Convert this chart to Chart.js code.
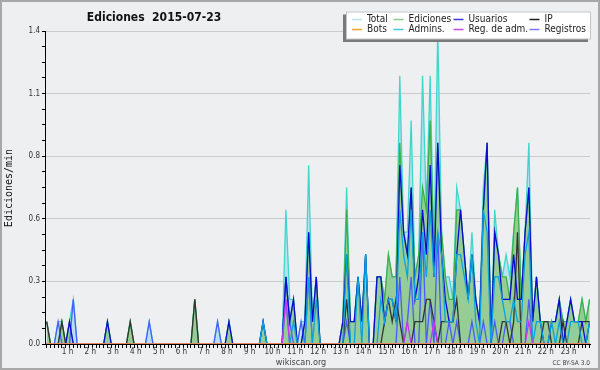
<!DOCTYPE html>
<html>
<head>
<meta charset="utf-8">
<title>Ediciones 2015-07-23</title>
<script src="https://cdn.jsdelivr.net/npm/chart.js@4.4.0/dist/chart.umd.min.js"></script>
<style>
  body { margin: 0; background: #eeeff1; }
  #wrap { width: 600px; height: 370px; }
</style>
</head>
<body>
<div id="wrap"><canvas id="mycanvas" width="600" height="370"></canvas></div>
<script>
// one value per 10 minutes, in ediciones/min (6 values per hour)
var total = [
  0.1, 0, 0, 0.1, 0.1, 0,        // 0 h
  0.1, 0.2, 0, 0, 0, 0,          // 1 h
  0, 0, 0, 0, 0.1, 0,            // 2 h
  0, 0, 0, 0, 0.1, 0,            // 3 h
  0, 0, 0, 0.1, 0, 0,            // 4 h
  0, 0, 0, 0, 0, 0,              // 5 h
  0, 0, 0, 0.2, 0, 0,            // 6 h
  0, 0, 0, 0.1, 0, 0,            // 7 h
  0.1, 0, 0, 0, 0, 0,            // 8 h
  0, 0, 0, 0.1, 0, 0,            // 9 h
  0, 0, 0, 0.6, 0.2, 0.2,        // 10 h
  0, 0.1, 0.1, 0.8, 0.1, 0.3,    // 11 h
  0, 0, 0, 0, 0, 0,              // 12 h
  0.1, 0.7, 0.1, 0.1, 0.3, 0.1,  // 13 h
  0.4, 0, 0, 0.3, 0.3, 0.2,      // 14 h
  0.4, 0.3, 0.3, 1.2, 0.5, 0.5,  // 15 h
  1.0, 0.3, 0.4, 1.2, 0.6, 1.2,  // 16 h
  0.4, 1.4, 0.5, 0.3, 0.3, 0.2,  // 17 h
  0.7, 0.6, 0.4, 0.2, 0.5, 0.2,  // 18 h
  0.1, 0.7, 0.9, 0, 0.6, 0.4,    // 19 h
  0.3, 0.4, 0.3, 0.5, 0.7, 0.2,  // 20 h
  0.5, 0.9, 0.1, 0.3, 0.1, 0.1,  // 21 h
  0.1, 0.1, 0.1, 0.2, 0.1, 0.1,  // 22 h
  0.2, 0.1, 0.1, 0.2, 0.1, 0.2   // 23 h
];
var ediciones = [
  0.1, 0, 0, 0, 0.1, 0,
  0.1, 0, 0, 0, 0, 0,
  0, 0, 0, 0, 0.1, 0,
  0, 0, 0, 0, 0.1, 0,
  0, 0, 0, 0, 0, 0,
  0, 0, 0, 0, 0, 0,
  0, 0, 0, 0.2, 0, 0,
  0, 0, 0, 0, 0, 0,
  0.1, 0, 0, 0, 0, 0,
  0, 0, 0, 0.1, 0, 0,
  0, 0, 0, 0.3, 0.1, 0.2,
  0, 0, 0.1, 0.5, 0.1, 0.3,
  0, 0, 0, 0, 0, 0,
  0.1, 0.6, 0.1, 0.1, 0.3, 0.1,
  0.4, 0, 0, 0.3, 0.3, 0.2,
  0.4, 0.3, 0.3, 0.9, 0.5, 0.4,
  0.7, 0.3, 0.4, 0.7, 0.6, 1.0,
  0.4, 0.9, 0.5, 0.3, 0.2, 0.2,
  0.6, 0.6, 0.4, 0.2, 0.4, 0.2,
  0.1, 0.6, 0.9, 0, 0.5, 0.4,
  0.3, 0.3, 0.2, 0.5, 0.7, 0.2,
  0.5, 0.7, 0.1, 0.3, 0.1, 0.1,
  0.1, 0.1, 0.1, 0.2, 0.1, 0.1,
  0.2, 0.1, 0.1, 0.2, 0.1, 0.2
];
var usuarios = [
  0, 0, 0, 0, 0, 0,
  0.1, 0, 0, 0, 0, 0,
  0, 0, 0, 0, 0.1, 0,
  0, 0, 0, 0, 0, 0,
  0, 0, 0, 0, 0, 0,
  0, 0, 0, 0, 0, 0,
  0, 0, 0, 0, 0, 0,
  0, 0, 0, 0, 0, 0,
  0.1, 0, 0, 0, 0, 0,
  0, 0, 0, 0.1, 0, 0,
  0, 0, 0, 0.3, 0.1, 0.2,
  0, 0, 0.1, 0.5, 0.1, 0.3,
  0, 0, 0, 0, 0, 0,
  0.1, 0.4, 0.1, 0.1, 0.3, 0.1,
  0.4, 0, 0, 0.3, 0.3, 0.1,
  0.2, 0.2, 0.1, 0.8, 0.5, 0.4,
  0.7, 0.2, 0.3, 0.6, 0.4, 0.8,
  0.3, 0.9, 0.4, 0.2, 0.1, 0.1,
  0.4, 0.6, 0.4, 0.2, 0.4, 0.2,
  0.1, 0.6, 0.9, 0, 0.5, 0.4,
  0.2, 0.2, 0.2, 0.4, 0.2, 0.2,
  0.5, 0.7, 0.1, 0.3, 0.1, 0,
  0, 0.1, 0.1, 0.2, 0, 0.1,
  0.2, 0.1, 0.1, 0.1, 0, 0.1
];
var ip = [
  0.1, 0, 0, 0, 0.1, 0,
  0, 0, 0, 0, 0, 0,
  0, 0, 0, 0, 0, 0,
  0, 0, 0, 0, 0.1, 0,
  0, 0, 0, 0, 0, 0,
  0, 0, 0, 0, 0, 0,
  0, 0, 0, 0.2, 0, 0,
  0, 0, 0, 0, 0, 0,
  0, 0, 0, 0, 0, 0,
  0, 0, 0, 0, 0, 0,
  0, 0, 0, 0, 0, 0,
  0, 0, 0, 0, 0, 0,
  0, 0, 0, 0, 0, 0,
  0, 0.2, 0, 0, 0, 0,
  0, 0, 0, 0, 0, 0.1,
  0.2, 0.1, 0.2, 0.1, 0, 0,
  0, 0.1, 0.1, 0.1, 0.2, 0.2,
  0.1, 0, 0.1, 0.1, 0.1, 0.1,
  0.2, 0, 0, 0, 0, 0,
  0, 0, 0, 0, 0, 0,
  0.1, 0.1, 0, 0.1, 0.5, 0,
  0, 0, 0, 0, 0, 0.1,
  0.1, 0, 0, 0, 0.1, 0,
  0, 0, 0, 0.1, 0.1, 0.1
];
var bots = [
  0, 0, 0, 0, 0, 0,
  0, 0, 0, 0, 0, 0,
  0, 0, 0, 0, 0, 0,
  0, 0, 0, 0, 0, 0,
  0, 0, 0, 0, 0, 0,
  0, 0, 0, 0, 0, 0,
  0, 0, 0, 0, 0, 0,
  0, 0, 0, 0, 0, 0,
  0, 0, 0, 0, 0, 0,
  0, 0, 0, 0, 0, 0,
  0, 0, 0, 0, 0, 0,
  0, 0, 0, 0, 0, 0,
  0, 0, 0, 0, 0, 0,
  0, 0, 0, 0, 0, 0,
  0, 0, 0, 0, 0, 0,
  0, 0, 0, 0, 0, 0,
  0, 0, 0, 0, 0, 0,
  0, 0, 0, 0, 0, 0,
  0, 0, 0, 0, 0, 0,
  0, 0, 0, 0, 0, 0,
  0, 0, 0, 0, 0, 0,
  0, 0, 0, 0, 0, 0,
  0, 0, 0, 0, 0, 0,
  0, 0, 0, 0, 0, 0
];
var admins = [
  0, 0, 0, 0, 0, 0,
  0, 0, 0, 0, 0, 0,
  0, 0, 0, 0, 0, 0,
  0, 0, 0, 0, 0, 0,
  0, 0, 0, 0, 0, 0,
  0, 0, 0, 0, 0, 0,
  0, 0, 0, 0, 0, 0,
  0, 0, 0, 0, 0, 0,
  0, 0, 0, 0, 0, 0,
  0, 0, 0, 0.1, 0, 0,
  0, 0, 0, 0.2, 0, 0.1,
  0, 0, 0, 0.3, 0, 0.2,
  0, 0, 0, 0, 0, 0,
  0, 0.4, 0, 0, 0.3, 0,
  0.4, 0, 0, 0, 0.2, 0.1,
  0.2, 0.2, 0.1, 0.6, 0.4, 0.3,
  0.6, 0.2, 0.2, 0.5, 0.3, 0.6,
  0.3, 0.5, 0.4, 0.1, 0.1, 0.1,
  0.4, 0.4, 0.3, 0.2, 0.4, 0.1,
  0, 0.6, 0.5, 0, 0.3, 0.3,
  0.2, 0.1, 0.1, 0.2, 0.1, 0.1,
  0.4, 0.5, 0, 0.1, 0.1, 0,
  0, 0.1, 0, 0.1, 0, 0,
  0.1, 0.1, 0.1, 0, 0, 0.1
];
var regAdm = [
  0, 0, 0, 0, 0, 0,
  0, 0, 0, 0, 0, 0,
  0, 0, 0, 0, 0, 0,
  0, 0, 0, 0, 0, 0,
  0, 0, 0, 0, 0, 0,
  0, 0, 0, 0, 0, 0,
  0, 0, 0, 0, 0, 0,
  0, 0, 0, 0, 0, 0,
  0, 0, 0, 0, 0, 0,
  0, 0, 0, 0, 0, 0,
  0, 0, 0, 0.2, 0, 0,
  0, 0, 0, 0, 0, 0,
  0, 0, 0, 0, 0, 0,
  0, 0, 0, 0, 0, 0,
  0, 0, 0, 0, 0, 0,
  0, 0, 0, 0, 0, 0.1,
  0, 0, 0, 0, 0, 0,
  0.1, 0, 0, 0, 0, 0,
  0, 0, 0, 0, 0, 0,
  0, 0, 0, 0, 0, 0,
  0, 0, 0, 0, 0, 0,
  0, 0.1, 0, 0, 0, 0,
  0, 0, 0, 0, 0, 0,
  0, 0, 0, 0, 0, 0
];
var registros = [
  0, 0, 0, 0.1, 0, 0,
  0, 0.2, 0, 0, 0, 0,
  0, 0, 0, 0, 0, 0,
  0, 0, 0, 0, 0, 0,
  0, 0, 0, 0.1, 0, 0,
  0, 0, 0, 0, 0, 0,
  0, 0, 0, 0, 0, 0,
  0, 0, 0, 0.1, 0, 0,
  0, 0, 0, 0, 0, 0,
  0, 0, 0, 0, 0, 0,
  0, 0, 0, 0.3, 0.1, 0,
  0, 0.1, 0, 0.3, 0, 0,
  0, 0, 0, 0, 0, 0,
  0, 0.1, 0, 0, 0, 0,
  0, 0, 0, 0, 0, 0,
  0, 0, 0, 0.3, 0, 0.1,
  0.3, 0, 0, 0.5, 0, 0.2,
  0, 0.5, 0, 0, 0.1, 0,
  0.1, 0, 0, 0, 0.1, 0,
  0, 0.1, 0, 0, 0.1, 0,
  0, 0.1, 0.1, 0, 0, 0,
  0, 0.2, 0, 0, 0, 0,
  0, 0, 0, 0, 0, 0,
  0, 0, 0, 0, 0, 0
];

var seriesNames = ['Total', 'Ediciones', 'Usuarios', 'IP', 'Bots', 'Admins.', 'Reg. de adm.', 'Registros'];
var hourLabels = ['1 h', '2 h', '3 h', '4 h', '5 h', '6 h', '7 h', '8 h', '9 h', '10 h', '11 h', '12 h',
  '13 h', '14 h', '15 h', '16 h', '17 h', '18 h', '19 h', '20 h', '21 h', '22 h', '23 h'];
var yTickLabels = ['0.0', '0.3', '0.6', '0.8', '1.1', '1.4'];
var yMax = 1.4;

var FONT = '"DejaVu Sans Condensed", "DejaVu Sans", sans-serif';

function points(arr) {
  return arr.map(function (v, i) { return { x: i, y: v }; });
}

// line colour, legend swatch colour, fill, draw order (higher = further back)
var styles = {
  'Total':        { line: '#3fd6cc', key: '#b4e6e8', fill: '#b9e0ef', order: 8 },
  'Ediciones':    { line: '#3cb04a', key: '#88cc88', fill: 'rgb(150,204,150)', order: 7 },
  'Registros':    { line: '#4a5cff', key: '#7a7aff', order: 6 },
  'IP':           { line: '#333333', key: '#222222', order: 5 },
  'Usuarios':     { line: '#0a0ad8', key: '#3a3ae0', order: 4 },
  'Admins.':      { line: '#0aa4dc', key: '#44c8dc', order: 3 },
  'Reg. de adm.': { line: '#cc33ee', key: '#cc44ee', order: 2 },
  'Bots':         { line: '#ff9933', key: '#f5a030', order: 1 }
};

var seriesData = {
  'Total': total, 'Ediciones': ediciones, 'Usuarios': usuarios, 'IP': ip,
  'Bots': bots, 'Admins.': admins, 'Reg. de adm.': regAdm, 'Registros': registros
};

var datasets = seriesNames.map(function (name) {
  var s = styles[name];
  return {
    label: name,
    data: points(seriesData[name]),
    borderColor: s.line,
    backgroundColor: s.fill || s.line,
    fill: s.fill ? 'origin' : false,
    borderWidth: 1.3,
    pointRadius: 0,
    tension: 0,
    order: s.order
  };
});

var decor = {
  id: 'decor',
  beforeDraw: function (chart) {
    var c = chart.ctx;
    c.save();
    c.fillStyle = '#eeeff1';
    c.fillRect(0, 0, chart.width, chart.height);
    c.restore();
  },
  afterDraw: function (chart) {
    var c = chart.ctx;
    c.save();
    // title
    c.fillStyle = '#111';
    c.font = 'bold 12px ' + FONT;
    c.textAlign = 'center';
    c.textBaseline = 'alphabetic';
    c.fillText('Ediciones  2015-07-23', 154, 21);

    // y axis title
    c.save();
    c.translate(9, 188);
    c.rotate(-Math.PI / 2);
    c.font = '10px "DejaVu Sans Mono", monospace';
    c.textBaseline = 'middle';
    c.fillText('Ediciones/min', 0, 0);
    c.restore();

    // footer
    c.fillStyle = '#444';
    c.font = '9px ' + FONT;
    c.fillText('wikiscan.org', 301, 365);
    c.font = '6.5px ' + FONT;
    c.textAlign = 'right';
    c.fillText('CC BY-SA 3.0', 590, 365);

    // legend box with shadow
    c.fillStyle = '#7a7a7a';
    c.fillRect(343, 14.5, 245, 27.5);
    c.fillStyle = '#ffffff';
    c.fillRect(346, 11.5, 245, 27.5);
    c.strokeStyle = '#c4c4c4';
    c.lineWidth = 1;
    c.strokeRect(346.5, 12, 244, 27);

    var colX = [352, 393.5, 453.5, 529.5];
    var rowY = [19, 29];
    c.font = '10px ' + FONT;
    c.textAlign = 'left';
    c.textBaseline = 'middle';
    seriesNames.forEach(function (name, i) {
      var x = colX[i % 4], y = rowY[Math.floor(i / 4)];
      c.strokeStyle = styles[name].key;
      c.lineWidth = 1.5;
      c.beginPath();
      c.moveTo(x, y + 0.5);
      c.lineTo(x + 10, y + 0.5);
      c.stroke();
      c.fillStyle = '#222';
      c.fillText(name, x + 15, y);
    });

    // outer frame
    c.strokeStyle = '#a8a8a8';
    c.lineWidth = 2;
    c.strokeRect(1, 1, chart.width - 2, chart.height - 2);
    c.restore();
  }
};

var ctx = document.getElementById('mycanvas');

var chart = new Chart(ctx, {
  type: 'line',
  data: { datasets: datasets },
  options: {
    responsive: false,
    animation: false,
    layout: { padding: { top: 31, right: 10, left: 0, bottom: 0 } },
    plugins: {
      legend: { display: false },
      tooltip: { enabled: false }
    },
    scales: {
      x: {
        type: 'linear',
        min: -0.45,
        max: 143.1,
        afterBuildTicks: function (scale) {
          var t = [];
          for (var i = 0; i < 144; i++) t.push({ value: i });
          scale.ticks = t;
        },
        afterFit: function (scale) { scale.height = 26; },
        grid: { drawOnChartArea: false, tickLength: 4, tickColor: '#000' },
        border: { color: '#000', width: 1 },
        ticks: {
          autoSkip: false,
          maxRotation: 0,
          padding: -1,
          labelOffset: -2,
          color: '#333',
          font: { family: FONT, size: 8 },
          callback: function (value) {
            return (value > 0 && value % 6 === 0) ? hourLabels[value / 6 - 1] : '';
          }
        }
      },
      y: {
        min: 0,
        max: yMax,
        afterBuildTicks: function (scale) {
          var t = [];
          for (var k = 0; k <= 20; k++) t.push({ value: k * yMax / 20 });
          scale.ticks = t;
        },
        afterFit: function (scale) { scale.width = 45; },
        grid: {
          tickLength: 3,
          tickColor: '#000',
          color: function (c) {
            return (c.index % 4 === 0 && c.index > 0) ? '#cbcbcb' : 'rgba(0,0,0,0)';
          }
        },
        border: { color: '#000', width: 1 },
        ticks: {
          autoSkip: false,
          padding: 2,
          color: '#333',
          font: { family: FONT, size: 8 },
          callback: function (value, index) {
            return index % 4 === 0 ? yTickLabels[index / 4] : '';
          }
        }
      }
    }
  },
  plugins: [decor]
});
</script>
</body>
</html>
